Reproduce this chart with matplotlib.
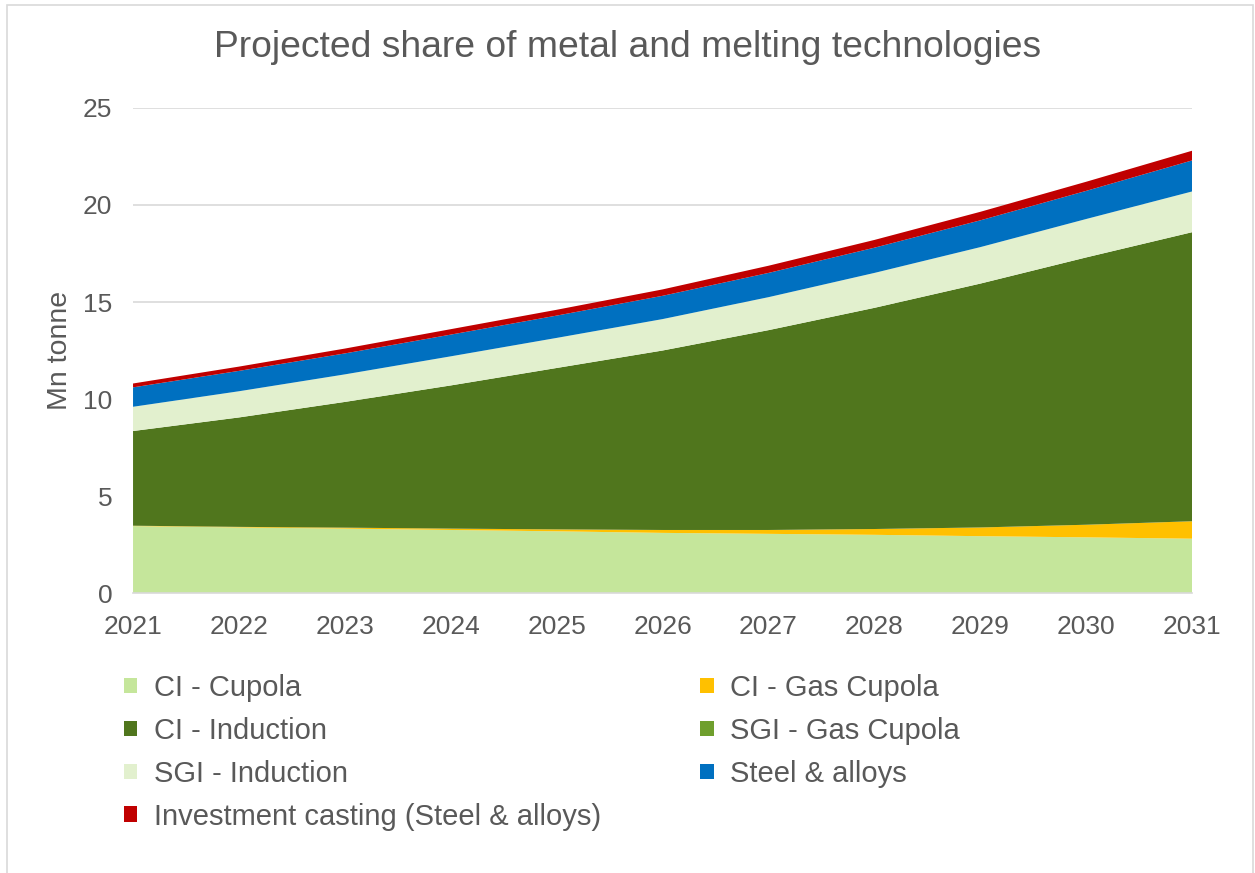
import numpy as np
import matplotlib.pyplot as plt
from matplotlib.patches import Patch, Rectangle

plt.rcParams['font.family'] = ['Liberation Sans', 'DejaVu Sans']

years = [2021, 2022, 2023, 2024, 2025, 2026, 2027, 2028, 2029, 2030, 2031]

# Mn tonne per technology
ci_cupola = [3.45, 3.38, 3.32, 3.25, 3.18, 3.10, 3.05, 3.00, 2.93, 2.87, 2.80]
ci_gas_cupola = [0.02, 0.03, 0.05, 0.07, 0.10, 0.15, 0.20, 0.30, 0.45, 0.65, 0.90]
ci_induction = [4.88, 5.64, 6.48, 7.38, 8.32, 9.25, 10.30, 11.40, 12.57, 13.78, 14.90]
sgi_gas_cupola = [0, 0, 0, 0, 0, 0, 0, 0, 0, 0, 0]
sgi_induction = [1.25, 1.35, 1.42, 1.50, 1.55, 1.62, 1.70, 1.80, 1.88, 1.98, 2.10]
steel_alloys = [1.00, 1.05, 1.08, 1.12, 1.15, 1.20, 1.25, 1.30, 1.38, 1.45, 1.60]
investment = [0.20, 0.22, 0.25, 0.28, 0.30, 0.33, 0.37, 0.40, 0.44, 0.47, 0.50]

labels = ['CI - Cupola', 'CI - Gas Cupola', 'CI - Induction', 'SGI - Gas Cupola',
          'SGI - Induction', 'Steel & alloys', 'Investment casting (Steel & alloys)']
colors = ['#C5E69B', '#FFC000', '#50761D', '#6F9F2D', '#E2F0CE', '#0070C0', '#C00000']

series = [ci_cupola, ci_gas_cupola, ci_induction, sgi_gas_cupola,
          sgi_induction, steel_alloys, investment]

text_col = '#595959'

fig = plt.figure(figsize=(12.55, 8.73), dpi=100)
ax = fig.add_axes([0.106, 0.3207, 0.844, 0.5556])

ax.stackplot(years, *series, colors=colors, labels=labels, linewidth=0)

ax.set_xlim(2021, 2031)
ax.set_ylim(0, 25)
ax.set_xticks(years)
ax.set_yticks(range(0, 26, 5))
ax.tick_params(axis='both', length=0, labelsize=19, labelcolor=text_col)
ax.tick_params(axis='x', pad=16)
ax.tick_params(axis='y', pad=15)
ax.yaxis.grid(True, color='#D9D9D9', linewidth=1.2)
ax.set_axisbelow(True)
for s in ['top', 'right', 'left']:
    ax.spines[s].set_visible(False)
ax.spines['bottom'].set_color('#D9D9D9')
ax.spines['bottom'].set_linewidth(1.2)

ax.set_ylabel('Mn tonne', fontsize=20.5, color=text_col, labelpad=7)
fig.text(0.5, 0.946, 'Projected share of metal and melting technologies',
         ha='center', va='center', fontsize=26.8, color=text_col)

# legend fills row by row: reorder so matplotlib's column fill matches
handles = [Patch(facecolor=c, edgecolor='none') for c in colors]
order = [0, 2, 4, 6, 1, 3, 5]
fig.legend([handles[i] for i in order], [labels[i] for i in order],
           loc='upper left', bbox_to_anchor=(0.0775, 0.258), ncol=2,
           frameon=False, fontsize=21, labelcolor=text_col,
           handlelength=0.45, handleheight=0.45, handletextpad=0.58,
           columnspacing=3.42, labelspacing=0.51)

# chart area outline
fig.patches.append(Rectangle((7 / 1255, -0.01), (1253 - 7) / 1255, 1 - 5 / 873 + 0.01,
                             transform=fig.transFigure, fill=False,
                             edgecolor='#D9D9D9', linewidth=1.2))

fig.savefig('out.png', dpi=100)
